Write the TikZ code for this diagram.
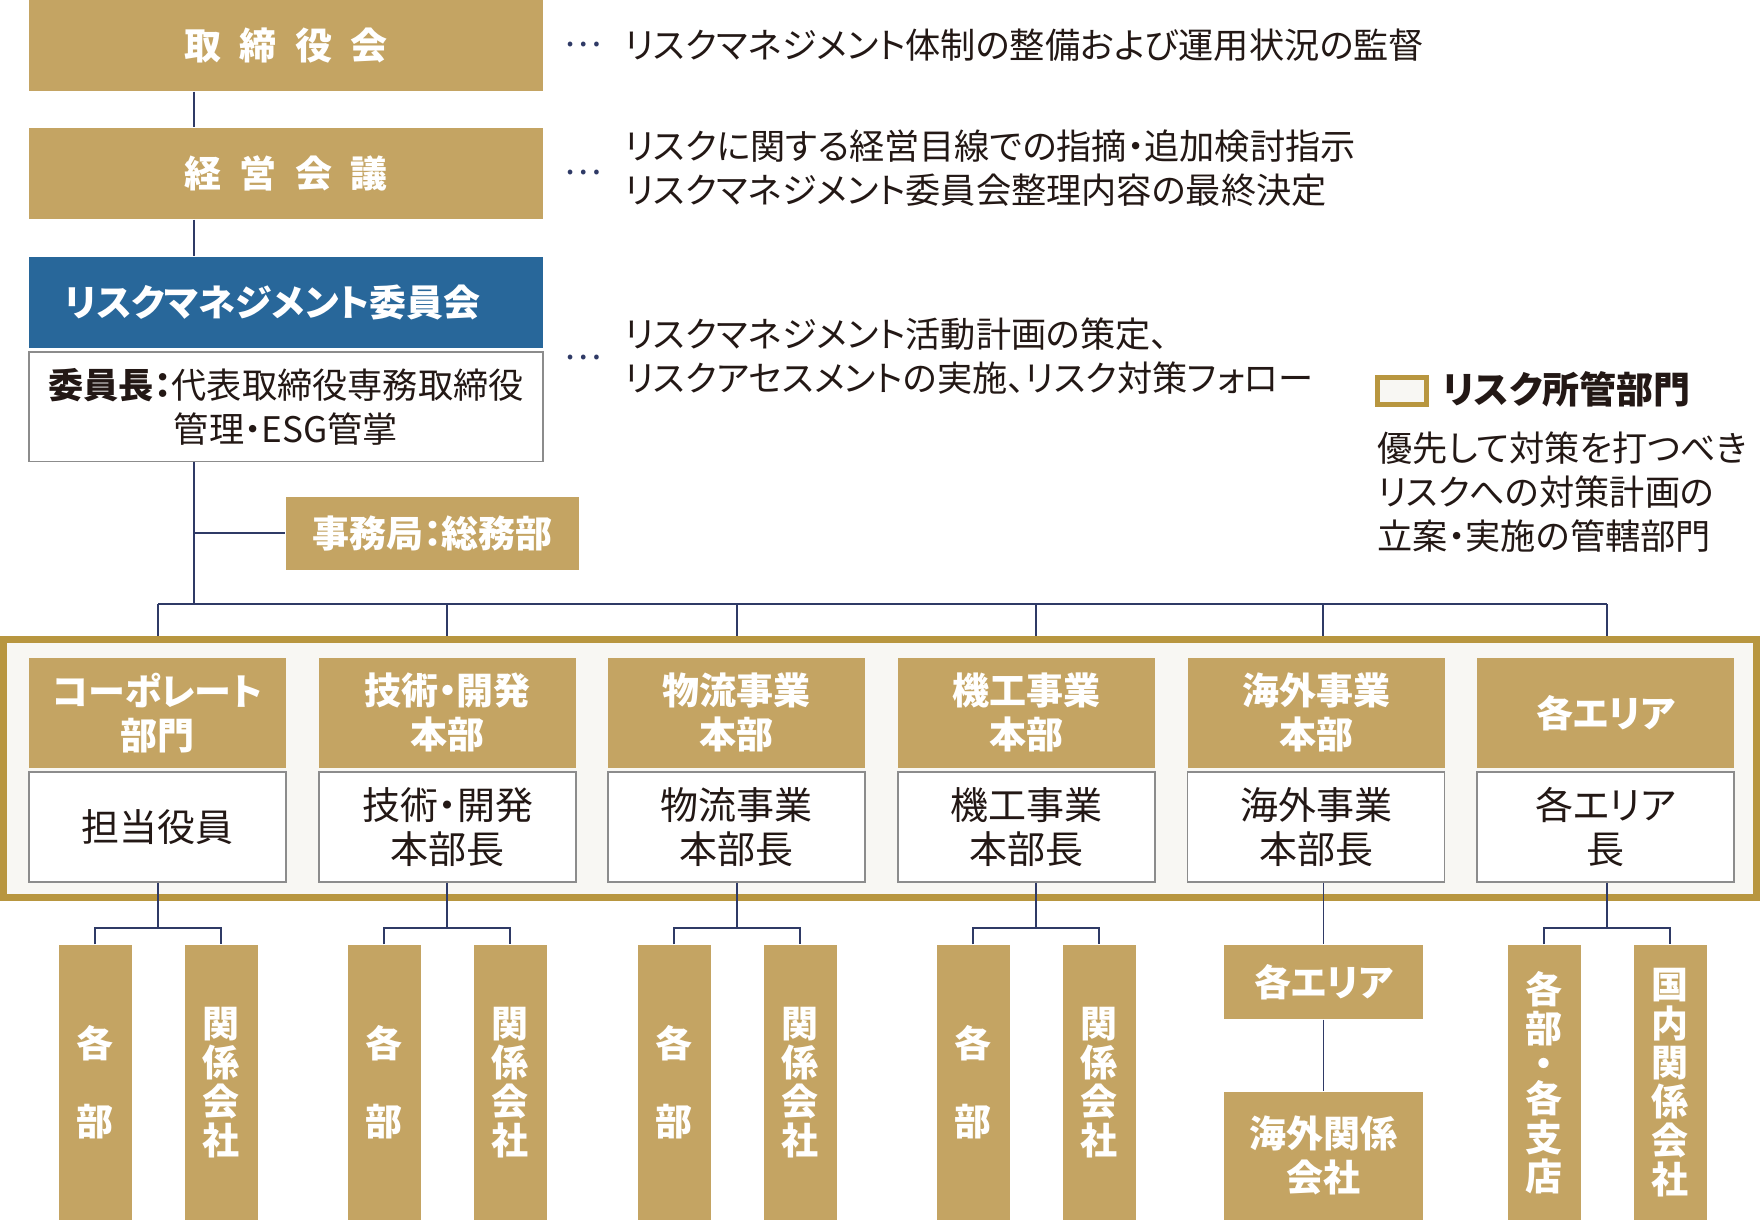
\documentclass[tikz,border=0pt]{standalone}
\usepackage{fontspec}
\setmainfont{Noto Sans CJK JP}[RawFeature=+palt]
\usepackage{tikz}
\usetikzlibrary{positioning}
\definecolor{gold}{HTML}{C4A463}
\definecolor{frameg}{HTML}{B8963F}
\definecolor{paper}{HTML}{F8F7F3}
\definecolor{rblue}{HTML}{28679A}
\definecolor{navy}{HTML}{2F3A66}
\definecolor{ink}{HTML}{231815}
\definecolor{edge}{HTML}{8C8C8C}
\newcommand\hdfont{\fontsize{3.7mm}{4.4mm}\selectfont\bfseries}
\newcommand\txfont{\fontsize{3.52mm}{4.4mm}\selectfont}
\newcommand\colfont{\fontsize{3.8mm}{4.4mm}\selectfont}
\newcommand\subfont{\fontsize{3.7mm}{3.9mm}\selectfont\bfseries}
\tikzset{
 g/.style
  = {rectangle, fill=gold, text=white, inner sep=0pt, align=center,
     font=\hdfont},
 top/.style
  = {g, minimum width=51.4mm, minimum height=9.1mm},
 hd/.style
  = {g, minimum width=25.7mm, minimum height=11.05mm},
 wb/.style
  = {rectangle, draw=edge, line width=0.12mm, fill=white, text=ink,
     inner sep=0pt, align=center, font=\colfont,
     minimum width=25.7mm, minimum height=11mm},
 sb/.style
  = {g, minimum width=7.3mm, minimum height=27.5mm, font=\subfont},
 d/.style
  = {anchor=west, inner sep=0pt, align=left, text=ink, font=\txfont},
 dots/.style
  = {inner sep=0pt, text=navy, font=\txfont},
 l/.style
  = {draw=navy, line width=0.16mm},
}

\begin{document}
\begin{tikzpicture}[x=0.1mm, y=-0.1mm]
\useasboundingbox (0,0) rectangle (1760,1220);

% Board
\node[top] (board) at (286,45.5) {取\hspace{.5em}締\hspace{.5em}役\hspace{.5em}会};
\node[dots] (dot1) at (583,45) {…};
\node[d] (d1) at (624,45) {リスクマネジメント体制の整備および運用状況の監督};

% Management meeting
\node[top] (mgmt) at (286,173.5) {経\hspace{.5em}営\hspace{.5em}会\hspace{.5em}議};
\node[dots] (dot2) at (583,173) {…};
\node[d] (d2) at (624,168) {リスクに関する経営目線での指摘・追加検討指示\\リスクマネジメント委員会整理内容の最終決定};

% Committee
\node[top, fill=rblue, text width=44.2mm, align=left] (rmc) at (286,302) {リスクマネジメント委員会};
\node[wb, minimum width=51.4mm, minimum height=10.95mm, font=\txfont] (chair) at (286,406.75) {{\bfseries 委員長：}代表取締役専務取締役\\管理・ESG管掌};
\node[dots] (dot3) at (583,358) {…};
\node[d] (d3) at (624,356.5) {リスクマネジメント活動計画の策定、\\リスクアセスメントの実施、リスク対策フォロー};

% Secretariat
\node[g, minimum width=29.3mm, minimum height=7.25mm] (sec) at (432.5,533.25) {事務局：総務部};

% Legend
\node[draw=frameg, line width=0.5mm, fill=paper, minimum width=4.9mm, minimum height=2.7mm, inner sep=0pt] (key) at (1402,391) {};
\node[inner sep=0pt, anchor=west, text=ink, font=\hdfont] (keyt) at (1442,389) {リスク所管部門};
\node[d] (keyd) at (1377,492.5) {優先して対策を打つべき\\リスクへの対策計画の\\立案・実施の管轄部門};

% Trunk and bus
\coordinate (trunk) at (194,0);
\coordinate (g1) at (158,604);
\coordinate (g2) at (447,604);
\coordinate (g3) at (737,604);
\coordinate (g4) at (1036,604);
\coordinate (g5) at (1323,604);
\coordinate (g6) at (1607,604);
\draw[l] (board.south -| trunk) -- (mgmt.north -| trunk);
\draw[l] (mgmt.south -| trunk) -- (rmc.north -| trunk);
\draw[l] (chair.south -| trunk) -- (trunk |- g1);
\draw[l] (trunk |- sec.west) -- (sec.west);
\draw[l] (g1) -- (g6);

% Risk owner frame
\node[draw=frameg, line width=0.7mm, fill=paper, minimum width=175.3mm, minimum height=25.8mm, inner sep=0pt] (frame) at (880,768.5) {};
\foreach \i in {1,...,6}
  \draw[l] (g\i) -- (g\i |- frame.north);

% Corporate
\node[hd] (hd1) at (157.5,712.75) {コーポレート\\部門};
\node[wb] (wt1) at (157.5,827) {担当役員};

% Technology
\node[hd] (hd2) at (447.5,712.75) {技術・開発\\本部};
\node[wb] (wt2) at (447.5,827) {技術・開発\\本部長};

% Logistics
\node[hd] (hd3) at (736.5,712.75) {物流事業\\本部};
\node[wb] (wt3) at (736.5,827) {物流事業\\本部長};

% Machinery
\node[hd] (hd4) at (1026.5,712.75) {機工事業\\本部};
\node[wb] (wt4) at (1026.5,827) {機工事業\\本部長};

% Overseas
\node[hd] (hd5) at (1316,712.75) {海外事業\\本部};
\node[wb] (wt5) at (1316,827) {海外事業\\本部長};

% Areas
\node[hd] (hd6) at (1605.5,712.75) {各エリア};
\node[wb] (wt6) at (1605.5,827) {各エリア\\長};

% Units below
\coordinate (s1) at (158,928);
\coordinate (s2) at (447,928);
\coordinate (s3) at (737,928);
\coordinate (s4) at (1036,928);
\coordinate (s6) at (1607,928);

\node[sb] (bu1) at (95,1082.5) {各\\[3.9mm]部};
\node[sb] (kk1) at (221,1082.5) {関\\係\\会\\社};
\node[sb] (bu2) at (384,1082.5) {各\\[3.9mm]部};
\node[sb] (kk2) at (510,1082.5) {関\\係\\会\\社};
\node[sb] (bu3) at (674,1082.5) {各\\[3.9mm]部};
\node[sb] (kk3) at (800,1082.5) {関\\係\\会\\社};
\node[sb] (bu4) at (973,1082.5) {各\\[3.9mm]部};
\node[sb] (kk4) at (1099,1082.5) {関\\係\\会\\社};
\node[sb] (bu6) at (1544,1082.5) {各\\部\\[-0.4mm]・\\[-0.4mm]各\\支\\店};
\node[sb] (kk6) at (1670,1082.5) {国\\内\\関\\係\\会\\社};

\node[g, minimum width=19.9mm, minimum height=7.4mm] (area5) at (1323.5,982) {各エリア};
\node[g, minimum width=19.9mm, minimum height=12.85mm] (ov5) at (1323.5,1155.75) {海外関係\\会社};

\foreach \i in {1,2,3,4,6} {
  \draw[l] (wt\i.south -| s\i) -- (s\i);
  \draw[l] (bu\i.north) |- (s\i) -| (kk\i.north);
}
\draw[l] (wt5.south -| area5.north) -- (area5.north);
\draw[l] (area5.south) -- (ov5.north);

\end{tikzpicture}
\end{document}
